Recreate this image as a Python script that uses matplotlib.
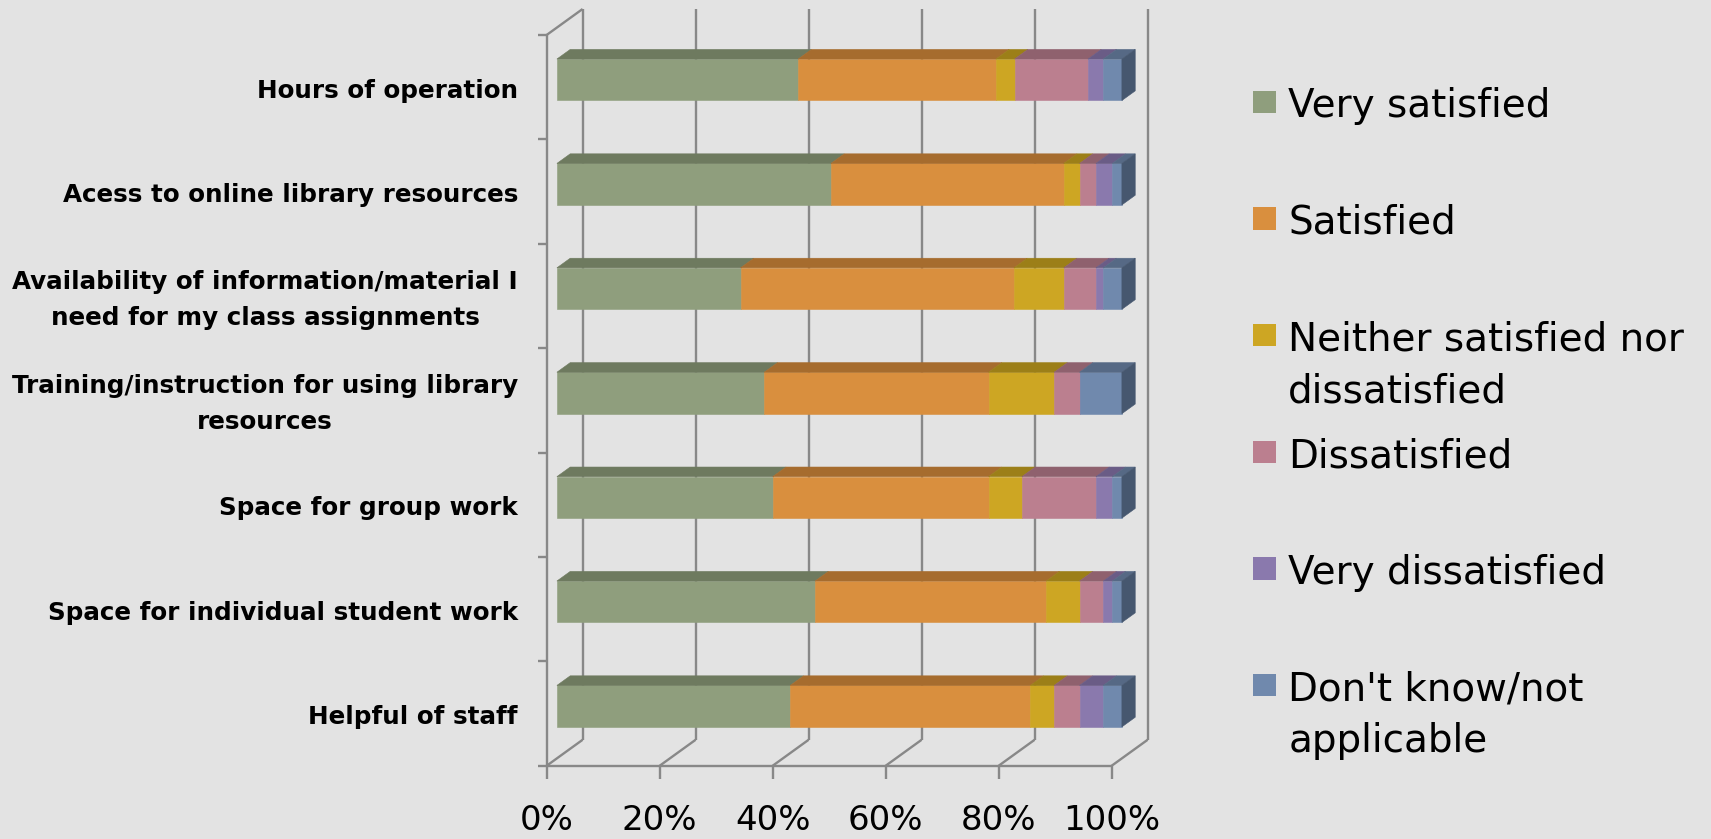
import numpy as np
import matplotlib.pyplot as plt
from matplotlib.patches import Polygon, Rectangle

# survey answers, % of respondents
categories = ["Hours of operation",
              "Acess to online library resources",
              "Availability of information/material I\nneed for my class assignments",
              "Training/instruction for using library\nresources",
              "Space for group work",
              "Space for individual student work",
              "Helpful of staff"]
very_satisfied = [42.7, 48.5, 32.5, 36.7, 38.2, 45.7, 41.3]
satisfied = [35.0, 41.2, 48.4, 39.7, 38.2, 40.9, 42.5]
neither = [3.3, 2.8, 8.8, 11.6, 5.9, 5.9, 4.2]
dissatisfied = [13.0, 2.9, 5.7, 4.5, 13.1, 4.2, 4.5]
very_dissatisfied = [2.7, 2.9, 1.3, 0.0, 2.9, 1.6, 4.2]
dont_know = [3.3, 1.7, 3.3, 7.5, 1.7, 1.7, 3.3]

series_names = ["Very satisfied", "Satisfied", "Neither satisfied nor\ndissatisfied",
                "Dissatisfied", "Very dissatisfied", "Don't know/not\napplicable"]
xticks = [0, 20, 40, 60, 80, 100]

front_cols = ['#8f9e7d', '#d98f3e', '#cda623', '#bb7f8f', '#8a79ad', '#7089ad']
top_cols = ['#6e7a5f', '#a66c2e', '#9c7f18', '#8f616e', '#6a5c86', '#566985']
side_col = '#46576f'
grid_col = '#888888'
bg = '#e3e3e3'

series = [very_satisfied, satisfied, neither, dissatisfied, very_dissatisfied, dont_know]

W, H = 1711, 839
fig = plt.figure(figsize=(W / 100, H / 100), dpi=100)
fig.patch.set_facecolor(bg)
ax = fig.add_axes([0, 0, 1, 1])
ax.set_facecolor(bg)
ax.axis('off')

# pixel mapping: x in %, y in category rows (0 at top)
X0, SX = 556.9, 5.65
Y0, SY = 87.2, 104.4
ax.set_xlim(-X0 / SX, (W - X0) / SX)
ax.set_ylim((H - Y0) / SY, -Y0 / SY)

def px_x(p):
    return (p - X0) / SX

def px_y(p):
    return (p - Y0) / SY

# fake 3d depth
DX, DY = 6.37, -0.249
D0, D1 = 0.286, 0.656

def P(x, y, d):
    return (x + (d - D0) * DX, y + d * DY)

def seg(p, q, **kw):
    ax.plot([p[0], q[0]], [p[1], q[1]], color=grid_col, lw=1.7, zorder=1,
            solid_capstyle='butt', **kw)

n = len(categories)
ybot, ytop = n - 0.5, -0.5

# back wall + floor
for t in xticks:
    seg(P(t, ybot, 1), P(t, ytop, 1))
    seg(P(t, ybot, 0), P(t, ybot, 1))
    a = P(t, ybot, 0)
    seg(a, (a[0], a[1] + 0.125))
seg(P(0, ybot, 0), P(100, ybot, 0))
# left axis
seg(P(0, ytop, 0), P(0, ybot, 0))
seg(P(0, ytop, 0), P(0, ytop, 1))
for k in range(n + 1):
    a = P(0, ytop + k, 0)
    seg(a, (a[0] - 1.6, a[1]))

# bars
h = 0.397
ypos = np.arange(n) + D0 * DY
left = np.zeros(n)
for vals, fc, tc in zip(series, front_cols, top_cols):
    vals = np.array(vals)
    ax.barh(ypos, vals, left=left, height=h, color=fc, edgecolor=fc, lw=0.4, zorder=3)
    for i in range(n):
        if vals[i] <= 0:
            continue
        a, b = left[i], left[i] + vals[i]
        yt = i - h / 2
        ax.add_patch(Polygon([P(a, yt, D0), P(b, yt, D0), P(b, yt, D1), P(a, yt, D1)],
                             closed=True, facecolor=tc, edgecolor=tc, lw=0.4, zorder=3))
    left = left + vals
for i in range(n):
    e = left[i]
    yt, yb = i - h / 2, i + h / 2
    ax.add_patch(Polygon([P(e, yt, D0), P(e, yb, D0), P(e, yb, D1), P(e, yt, D1)],
                         closed=True, facecolor=side_col, edgecolor=side_col, lw=0.4, zorder=3))

# category labels
for i, c in enumerate(categories):
    ax.text(px_x(518), i + 0.035, c, ha='right', va='center', multialignment='center',
            fontsize=17.7, fontweight='bold', linespacing=1.62, color='black')

# x tick labels
for t in xticks:
    ax.text(P(t, ybot, 0)[0], px_y(830), f"{t}%", ha='center', va='baseline',
            fontsize=24.5, color='black')

# legend, one text per line so the first line lines up with the square
for k, (name, fc) in enumerate(zip(series_names, front_cols)):
    cy = 102 + k * 116.6
    ax.add_patch(Rectangle((px_x(1252.7), px_y(cy - 11.2)), 23.3 / SX, 22.4 / SY,
                           facecolor=fc, edgecolor='none', zorder=3))
    for j, line in enumerate(name.split('\n')):
        ax.text(px_x(1288.3), px_y(cy + 15.3 + j * 51.7), line, ha='left', va='baseline',
                fontsize=28, color='black')

fig.savefig('out.png', dpi=100, facecolor=bg)
